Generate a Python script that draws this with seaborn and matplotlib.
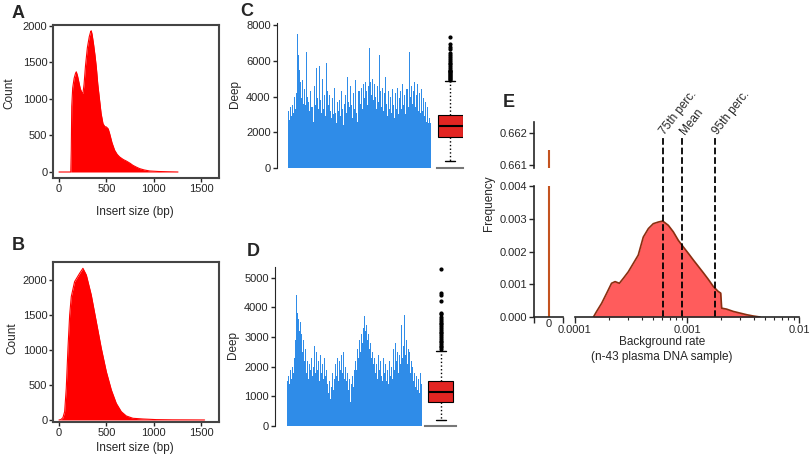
import numpy as np
import pandas as pd
import seaborn as sns
import matplotlib.pyplot as plt

sns.set_style('ticks')
plt.rcParams['font.family'] = ['Liberation Sans', 'DejaVu Sans']

W, H = 810, 461

# A: insert size distribution, sample 1
a_size = [0, 60, 125, 130, 135, 145, 160, 175, 183, 195, 210, 225, 240, 253, 265, 280, 300,
          320, 335, 341, 350, 365, 380, 394, 410, 429, 445, 465, 485, 500, 520, 535, 560,
          588, 615, 641, 680, 711, 750, 781, 820, 852, 900, 957, 1050, 1133, 1257]
a_count = [0, 0, 0, 300, 900, 1150, 1280, 1350, 1370, 1320, 1230, 1140, 1090, 1073, 1200,
           1450, 1700, 1850, 1920, 1931, 1880, 1750, 1600, 1438, 1200, 982, 800, 660, 620,
           616, 590, 525, 400, 297, 240, 205, 170, 150, 120, 91, 65, 46, 28, 14, 7, 4, 0]

# B: insert size distribution, sample 2
b_size = [0, 20, 42, 60, 77, 95, 113, 130, 165, 218, 253, 289, 341, 394, 447, 500, 553,
          605, 658, 711, 781, 887, 1028, 1200, 1400, 1538]
b_count = [0, 5, 33, 119, 452, 1024, 1500, 1762, 1976, 2095, 2167, 2071, 1786, 1405, 1024,
           690, 429, 238, 119, 57, 24, 14, 5, 2, 1, 0]

# C / D: sequencing depth along the target region
c_depth = [3200, 2700, 3400, 2900, 3500, 3100, 4000, 3300, 4200, 7500,
           6300, 5500, 4800, 3900, 4900, 3600, 4400, 3500, 6500, 4000,
           3700, 3200, 4300, 3400, 2600, 4600, 3500, 5600, 3900, 3300,
           5700, 3800, 3100, 5000, 3300, 4100, 2900, 5900, 4300, 3500,
           4100, 3200, 2800, 3900, 3000, 4500, 3100, 2500, 3700, 3200,
           3800, 2900, 4300, 3300, 2400, 3600, 4100, 3100, 5100, 3700,
           3400, 4600, 3500, 2800, 4200, 3300, 4900, 3100, 2600, 4300,
           3600, 4500, 3300, 4700, 3900, 4800, 4300, 3500, 4600, 6700,
           4800, 4100, 5000, 3800, 4700, 4000, 3300, 4600, 3700, 6300,
           4300, 3400, 4500, 3200, 4200, 5100, 3600, 2900, 4300, 3300,
           4000, 3100, 4400, 3500, 2800, 4200, 3300, 4500, 3000, 3900,
           4300, 3300, 4700, 3500, 4100, 3000, 4400, 3400, 6500, 4000,
           4600, 3600, 4300, 4800, 3400, 4100, 4700, 3200, 4200, 3100,
           4400, 3200, 3900, 2900, 3700, 2600, 3400, 2500, 2800, 2500]
d_depth = [1500, 1700, 1400, 1900, 1600, 2000, 1800, 2300, 2900, 4400,
           3800, 3600, 3200, 3500, 2800, 3100, 2500, 2900, 2200, 2600,
           1800, 2200, 1600, 2100, 1900, 2300, 1700, 2000, 2700, 1800,
           2500, 1900, 2200, 1500, 2400, 1800, 2100, 1600, 2300, 1700,
           1900, 1400, 1700, 1100, 1500, 900, 1300, 1800, 1200, 1600,
           2100, 1700, 2300, 1500, 2200, 1900, 2400, 1800, 2500, 1600,
           2000, 1500, 1800, 1200, 1600, 800, 1400, 1700, 1300, 1900,
           1600, 2200, 1900, 2600, 2300, 2900, 2500, 3100, 2800, 3300,
           3700, 3200, 3400, 2900, 3100, 2600, 2800, 2300, 2500, 2100,
           2300, 1800, 2100, 1600, 2400, 1900, 2200, 1700, 2000, 1500,
           2300, 1800, 2100, 1500, 1900, 1400, 2200, 1700, 2000, 1600,
           2600, 1900, 2800, 2200, 2500, 1800, 2400, 2100, 3400, 2300,
           2700, 3750, 2400, 2900, 2100, 2600, 1900, 2500, 1800, 2200,
           2000, 1500, 1800, 1300, 1700, 1200, 1600, 1100, 1800, 1400]

c_box = dict(q1=1734, med=2350, q3=2965, whislo=390, whishi=4870,
             fliers=[4950, 5000, 5050, 5100, 5150, 5200, 5250, 5300, 5350, 5400, 5450,
                     5500, 5600, 5700, 5800, 5900, 6000, 6100, 6200, 6320, 6450, 6640,
                     6790, 6920, 7310])
d_box = dict(q1=817, med=1133, q3=1523, whislo=212, whishi=2532,
             fliers=[2600, 2650, 2700, 2760, 2820, 2880, 2940, 3000, 3060, 3120, 3180,
                     3240, 3300, 3360, 3420, 3480, 3540, 3600, 3680, 3760, 3820, 4200,
                     4400, 4480, 5280])

# E: background rate histogram
e_rate = [1.46e-4, 1.56e-4, 1.73e-4, 1.92e-4, 2.12e-4, 2.28e-4, 2.49e-4, 2.70e-4, 2.99e-4,
          3.32e-4, 3.67e-4, 4.07e-4, 4.52e-4, 5.00e-4, 5.55e-4, 6.07e-4, 6.81e-4, 7.55e-4,
          8.37e-4, 9.27e-4, 1.03e-3, 1.14e-3, 1.26e-3, 1.40e-3, 1.55e-3, 1.72e-3, 1.90e-3,
          2.00e-3, 2.04e-3, 2.26e-3, 2.59e-3, 2.97e-3, 3.41e-3, 3.91e-3, 4.49e-3]
e_freq = [0, 0.00017, 0.00042, 0.00073, 0.00103, 0.00108, 0.00103, 0.00118, 0.00138,
          0.00164, 0.00189, 0.00244, 0.0027, 0.00285, 0.0029, 0.00293, 0.0028, 0.0026,
          0.00234, 0.00214, 0.00194, 0.00174, 0.00155, 0.00135, 0.00115, 0.00093,
          0.00078, 0.00073, 0.00027, 0.00024, 0.00017, 0.00012, 0.00007, 0.00003, 0]
e_zero = 0.66147
e_marks = ['75th perc.', 'Mean', '95th perc.']
e_mark_rate = [0.000607, 0.000908, 0.00178]

fig = plt.figure(figsize=(W / 100, H / 100), dpi=100)


def px_axes(left, top, right, bottom):
    return fig.add_axes([left / W, 1 - bottom / H, (right - left) / W, (bottom - top) / H])


def px_text(x, y, s, **kw):
    fig.text(x / W, 1 - y / H, s, ha='center', va='center', **kw)


# ---- A and B: insert size
for size, count, box, ylim, lab_y, cnt_xy, letter in [
        (a_size, a_count, (53, 25, 219, 178), (-82, 2010), 212, (9, 93), ('A', 13)),
        (b_size, b_count, (53, 262, 219, 422), (-29, 2257), 448, (12, 338), ('B', 246))]:
    ax = px_axes(*box)
    sns.lineplot(x=size, y=count, color='red', lw=0.8, ax=ax)
    ax.fill_between(size, count, color='red', lw=0)
    ax.set_xlim(-63, 1690)
    ax.set_ylim(*ylim)
    ax.set_xticks([0, 500, 1000, 1500])
    ax.set_yticks([0, 500, 1000, 1500, 2000])
    for s in ax.spines.values():
        s.set_color('#444444')
        s.set_linewidth(1.5)
    ax.tick_params(labelsize=8, length=3, width=1, pad=1)
    px_text(135, lab_y, 'Insert size (bp)', fontsize=8.5)
    px_text(cnt_xy[0], cnt_xy[1], 'Count', fontsize=8.5, rotation=90)
    px_text(18, letter[1], letter[0], fontsize=13, fontweight='bold')

# ---- C and D: depth + boxplot
for depth, stats, spine_x, bars, boxspan, top, bottom, ymax, ticks, letter in [
        (c_depth, c_box, 277, (288, 431), (437, 463), 23, 168, 8112,
         [0, 2000, 4000, 6000, 8000], ('C', 247, 12)),
        (d_depth, d_box, 275, (287, 422), (425, 456), 267, 426, 5357,
         [0, 1000, 2000, 3000, 4000, 5000], ('D', 253, 252))]:
    ax = px_axes(spine_x, top, bars[1], bottom)
    n = len(depth)
    sns.barplot(x=np.arange(n), y=depth, color='#2f8ce8', saturation=1, width=1,
                linewidth=0, ax=ax)
    upp = (bars[1] - bars[0]) / n
    ax.set_xlim(-0.5 - (bars[0] - spine_x) / upp, n - 0.5)
    ax.set_ylim(0, ymax)
    ax.set_xticks([])
    ax.set_yticks(ticks)
    ax.set_ylabel('')
    sns.despine(ax=ax, bottom=True)
    ax.tick_params(labelsize=8, length=3, width=1, pad=1.5)

    bx = px_axes(boxspan[0], top, boxspan[1], bottom)
    wfrac = 25 / (boxspan[1] - boxspan[0])
    bx.bxp([stats], positions=[0], widths=wfrac, capwidths=wfrac * 0.4, patch_artist=True,
           boxprops=dict(facecolor='#e32522', edgecolor='black', lw=0.8),
           medianprops=dict(color='black', lw=1.5),
           whiskerprops=dict(color='black', lw=1, ls=':'),
           capprops=dict(color='black', lw=1),
           flierprops=dict(marker='o', ms=2, mfc='black', mec='black'))
    bx.set_xlim(-0.5, 0.5)
    bx.set_ylim(0, ymax)
    bx.set_xticks([])
    bx.set_yticks([])
    sns.despine(ax=bx, left=True)
    bx.spines['bottom'].set_color('#777777')
    bx.spines['bottom'].set_linewidth(1.5)
    px_text(spine_x - 42, (top + bottom) / 2 - 2, 'Deep', fontsize=8.5, rotation=90)
    px_text(letter[1], letter[2], letter[0], fontsize=13, fontweight='bold')

# ---- E: background rate, broken axes
orange = '#c4531f'
top_ax = px_axes(534, 122, 563, 168)
top_ax.vlines(0, 0, e_zero, color=orange, lw=1.5)
top_ax.set_xlim(-1, 1)
top_ax.set_ylim(0.660906, 0.66234)
top_ax.set_yticks([0.661, 0.662])
top_ax.set_yticklabels(['0.661', '0.662'])
top_ax.set_xticks([])
sns.despine(ax=top_ax, bottom=True)

low_ax = px_axes(534, 186, 563, 317)
low_ax.vlines(0, 0, e_zero, color=orange, lw=1.5)
low_ax.set_xlim(-1, 1)
low_ax.set_ylim(0, 0.004)
low_ax.set_yticks([0, 0.001, 0.002, 0.003, 0.004])
low_ax.set_yticklabels(['0.000', '0.001', '0.002', '0.003', '0.004'])
low_ax.set_xticks([0])
low_ax.set_xticklabels(['0'])
low_ax.set_xticks([-1, 1], minor=True)
low_ax.tick_params(axis='x', which='major', length=0, pad=4)
low_ax.tick_params(axis='x', which='minor', length=4, width=1)
sns.despine(ax=low_ax)

main_ax = px_axes(575, 186, 799, 317)
main_ax.fill_between(e_rate, e_freq, color='#ff5c5c', lw=0)
sns.lineplot(x=e_rate, y=e_freq, color='#8a2e10', lw=1.2, ax=main_ax)
main_ax.set_xscale('log')
main_ax.set_xlim(1e-4, 1e-2)
main_ax.set_ylim(0, 0.004)
main_ax.set_xticks([1e-4, 1e-3, 1e-2])
main_ax.set_xticklabels(['0.0001', '0.001', '0.01'])
main_ax.set_yticks([])
sns.despine(ax=main_ax, left=True)
main_ax.tick_params(axis='x', which='major', length=4, width=1)
main_ax.tick_params(axis='x', which='minor', length=2.5, width=0.8)
for name, r in zip(e_marks, e_mark_rate):
    main_ax.plot([r, r], [0, 1.374], transform=main_ax.get_xaxis_transform(),
                 color='black', ls='--', lw=1.3, clip_on=False)
    main_ax.text(r, 1.40, name, transform=main_ax.get_xaxis_transform(), rotation=52,
                 rotation_mode='anchor', ha='left', va='center', fontsize=8.5)

for a in (top_ax, low_ax, main_ax):
    a.tick_params(labelsize=8, width=1, pad=1.5)
    for s in a.spines.values():
        s.set_linewidth(1.2)

px_text(489, 203, 'Frequency', fontsize=8.5, rotation=90)
px_text(662, 342, 'Background rate', fontsize=8.5)
px_text(662, 357, '(n-43 plasma DNA sample)', fontsize=8.5)
px_text(509, 102, 'E', fontsize=13, fontweight='bold')

fig.savefig('out.png', dpi=100)
